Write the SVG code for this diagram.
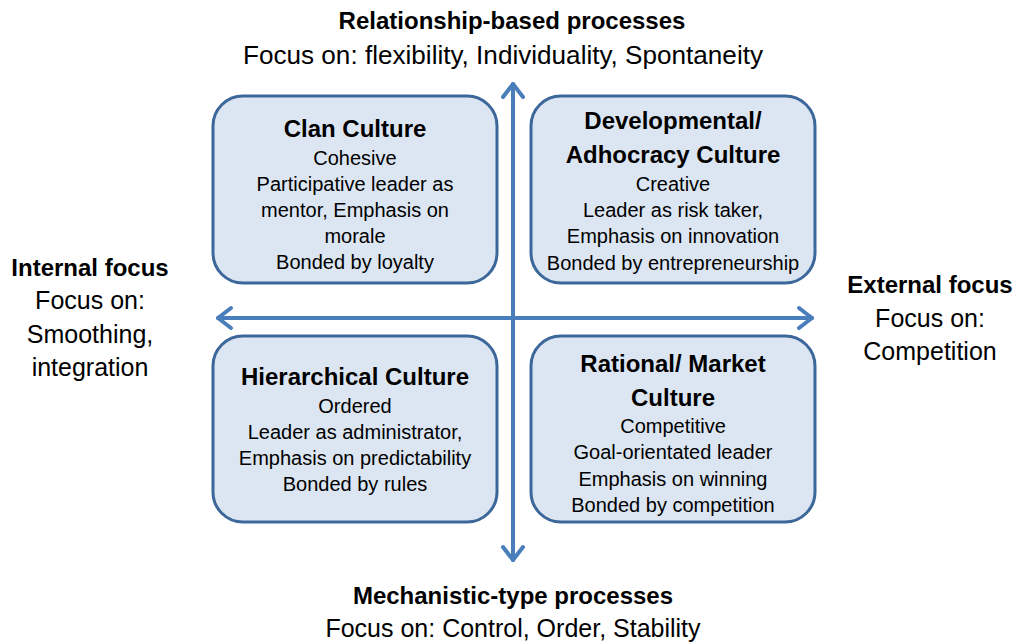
<svg xmlns="http://www.w3.org/2000/svg" width="1016" height="643" viewBox="0 0 1016 643">
<defs>
<style>
text{font-family:"Liberation Sans",Arial,sans-serif;fill:#000;text-anchor:middle}
.h{font-weight:bold;font-size:24px}
.b{font-size:20px}
.o{font-size:25px}
.ob{font-size:24px;font-weight:bold}
.box{fill:#dce6f2;stroke:#3c679a;stroke-width:3}
.ax{stroke:#4a7ebb;stroke-width:4;fill:none;stroke-linecap:round;stroke-linejoin:round}
</style>
</defs>
<rect width="1016" height="643" fill="#fff"/>
<g id="connectors">
<line class="ax" x1="513" y1="84" x2="513" y2="560"/>
<polyline class="ax" points="503,97 513,84 523,97"/>
<polyline class="ax" points="503,547 513,560 523,547"/>
<line class="ax" x1="218" y1="318" x2="812" y2="318"/>
<polyline class="ax" points="231,308 218,318 231,328"/>
<polyline class="ax" points="799,308 812,318 799,328"/>
</g>
<g id="top-label">
<text class="ob" x="512" y="29">Relationship-based processes</text>
<text class="o" x="503" y="64" textLength="520" lengthAdjust="spacingAndGlyphs">Focus on: flexibility, Individuality, Spontaneity</text>
</g>
<g id="bottom-label">
<text class="ob" x="513" y="604">Mechanistic-type processes</text>
<text class="o" x="513" y="637">Focus on: Control, Order, Stability</text>
</g>
<g id="left-label">
<text class="ob" x="90" y="276">Internal focus</text>
<text class="o" x="90" y="309">Focus on:</text>
<text class="o" x="90" y="343">Smoothing,</text>
<text class="o" x="90" y="376">integration</text>
</g>
<g id="right-label">
<text class="ob" x="930" y="293">External focus</text>
<text class="o" x="930" y="327">Focus on:</text>
<text class="o" x="930" y="360">Competition</text>
</g>
<g id="clan">
<rect class="box" x="213" y="96" width="284" height="187" rx="30"/>
<text class="h" x="355" y="137">Clan Culture</text>
<text class="b" x="355" y="165">Cohesive</text>
<text class="b" x="355" y="191">Participative leader as</text>
<text class="b" x="355" y="217">mentor, Emphasis on</text>
<text class="b" x="355" y="243">morale</text>
<text class="b" x="355" y="269">Bonded by loyalty</text>
</g>
<g id="developmental">
<rect class="box" x="531" y="96" width="284" height="187" rx="30"/>
<text class="h" x="673" y="129">Developmental/</text>
<text class="h" x="673" y="163">Adhocracy Culture</text>
<text class="b" x="673" y="191">Creative</text>
<text class="b" x="673" y="217">Leader as risk taker,</text>
<text class="b" x="673" y="243">Emphasis on innovation</text>
<text class="b" x="673" y="270">Bonded by entrepreneurship</text>
</g>
<g id="hierarchical">
<rect class="box" x="213" y="336" width="284" height="186" rx="30"/>
<text class="h" x="355" y="385">Hierarchical Culture</text>
<text class="b" x="355" y="413">Ordered</text>
<text class="b" x="355" y="439">Leader as administrator,</text>
<text class="b" x="355" y="465">Emphasis on predictability</text>
<text class="b" x="355" y="491">Bonded by rules</text>
</g>
<g id="rational">
<rect class="box" x="531" y="336" width="284" height="186" rx="30"/>
<text class="h" x="673" y="372">Rational/ Market</text>
<text class="h" x="673" y="406">Culture</text>
<text class="b" x="673" y="433">Competitive</text>
<text class="b" x="673" y="459">Goal-orientated leader</text>
<text class="b" x="673" y="486">Emphasis on winning</text>
<text class="b" x="673" y="512">Bonded by competition</text>
</g>
</svg>
